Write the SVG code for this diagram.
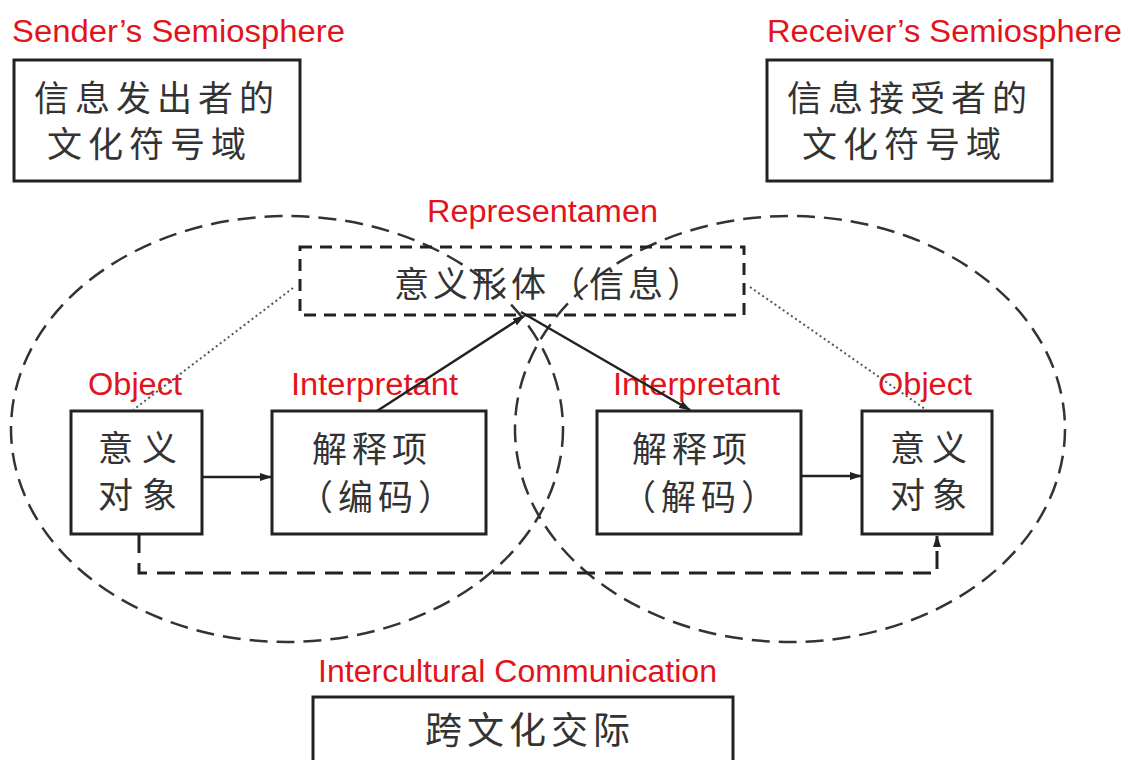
<svg xmlns="http://www.w3.org/2000/svg" width="1128" height="760" viewBox="0 0 1128 760">
  <defs>
    <style>
      .lbl { font-family: "Liberation Sans", Arial, sans-serif; font-size: 31px; fill: #e3131b; }
      .cjk { font-family: "Noto Sans CJK SC", "Noto Sans CJK JP", sans-serif; font-size: 35px; fill: #333; letter-spacing: 5px; }
      .box { fill: none; stroke: #222; stroke-width: 3; }
      .dbox { fill: none; stroke: #222; stroke-width: 3; stroke-dasharray: 12 8; }
      .ell { fill: none; stroke: #333; stroke-width: 2.5; stroke-dasharray: 18 9; }
      .dot { fill: none; stroke: #555; stroke-width: 2; stroke-dasharray: 2 3; }
      .arr { fill: none; stroke: #222; stroke-width: 2.5; marker-end: url(#ah); }
      .darr { fill: none; stroke: #222; stroke-width: 3; stroke-dasharray: 18 10; marker-end: url(#ah); }
    </style>
    <marker id="ah" viewBox="0 0 12 8" refX="11" refY="4" markerWidth="12" markerHeight="8" markerUnits="userSpaceOnUse" orient="auto">
      <path d="M0,0 L12,4 L0,8 z" fill="#222"/>
    </marker>
  </defs>
  <rect width="1128" height="760" fill="#fff"/>

  <g id="semiospheres">
    <ellipse class="ell" cx="287" cy="429" rx="276" ry="213"/>
    <ellipse class="ell" cx="790" cy="429" rx="275" ry="213"/>
  </g>

  <g id="sender">
    <text class="lbl" x="12" y="42" textLength="333" lengthAdjust="spacingAndGlyphs">Sender’s Semiosphere</text>
    <rect class="box" x="14" y="60" width="286" height="121"/>
    <text class="cjk" x="34" y="111" style="letter-spacing:6px">信息发出者的</text>
    <text class="cjk" x="47" y="157" style="letter-spacing:6px">文化符号域</text>
  </g>

  <g id="receiver">
    <text class="lbl" x="767" y="42" textLength="355" lengthAdjust="spacingAndGlyphs">Receiver’s Semiosphere</text>
    <rect class="box" x="767" y="60" width="285" height="121"/>
    <text class="cjk" x="787" y="111" style="letter-spacing:6px">信息接受者的</text>
    <text class="cjk" x="802" y="157" style="letter-spacing:6px">文化符号域</text>
  </g>

  <g id="representamen">
    <text class="lbl" x="427" y="222" textLength="231" lengthAdjust="spacingAndGlyphs">Representamen</text>
    <rect class="dbox" x="300" y="247" width="444" height="68"/>
    <text class="cjk" x="394" y="297" style="letter-spacing:4px">意义形体（信息）</text>
  </g>

  <g id="object-left">
    <text class="lbl" x="88" y="395" textLength="94" lengthAdjust="spacingAndGlyphs">Object</text>
    <rect class="box" x="71" y="411" width="131" height="123"/>
    <text class="cjk" x="98" y="461" style="letter-spacing:9px">意义</text>
    <text class="cjk" x="98" y="508" style="letter-spacing:9px">对象</text>
  </g>

  <g id="interpretant-left">
    <text class="lbl" x="291" y="395" textLength="167" lengthAdjust="spacingAndGlyphs">Interpretant</text>
    <rect class="box" x="272" y="411" width="214" height="123"/>
    <text class="cjk" x="312" y="462">解释项</text>
    <text class="cjk" x="298" y="510">（编码）</text>
  </g>

  <g id="interpretant-right">
    <text class="lbl" x="613" y="395" textLength="167" lengthAdjust="spacingAndGlyphs">Interpretant</text>
    <rect class="box" x="597" y="411" width="204" height="123"/>
    <text class="cjk" x="632" y="462">解释项</text>
    <text class="cjk" x="621" y="510">（解码）</text>
  </g>

  <g id="object-right">
    <text class="lbl" x="878" y="395" textLength="94" lengthAdjust="spacingAndGlyphs">Object</text>
    <rect class="box" x="862" y="411" width="130" height="123"/>
    <text class="cjk" x="890" y="461" style="letter-spacing:7px">意义</text>
    <text class="cjk" x="890" y="508" style="letter-spacing:7px">对象</text>
  </g>

  <g id="intercultural">
    <text class="lbl" x="318" y="682" textLength="399" lengthAdjust="spacingAndGlyphs">Intercultural Communication</text>
    <rect class="box" x="313" y="697" width="420" height="80"/>
    <text class="cjk" x="425" y="744" style="font-size:37px">跨文化交际</text>
  </g>

  <g id="connectors">
    <line class="dot" x1="293" y1="288" x2="133" y2="410"/>
    <line class="dot" x1="750" y1="287" x2="925" y2="409"/>
    <line class="arr" x1="202" y1="477" x2="271" y2="477"/>
    <line class="arr" x1="801" y1="476" x2="861" y2="476"/>
    <line class="arr" x1="377" y1="411" x2="524" y2="316"/>
    <line class="arr" x1="521" y1="312" x2="690" y2="410"/>
    <path class="darr" d="M139,535 V573 H937 V536"/>
  </g>
</svg>
